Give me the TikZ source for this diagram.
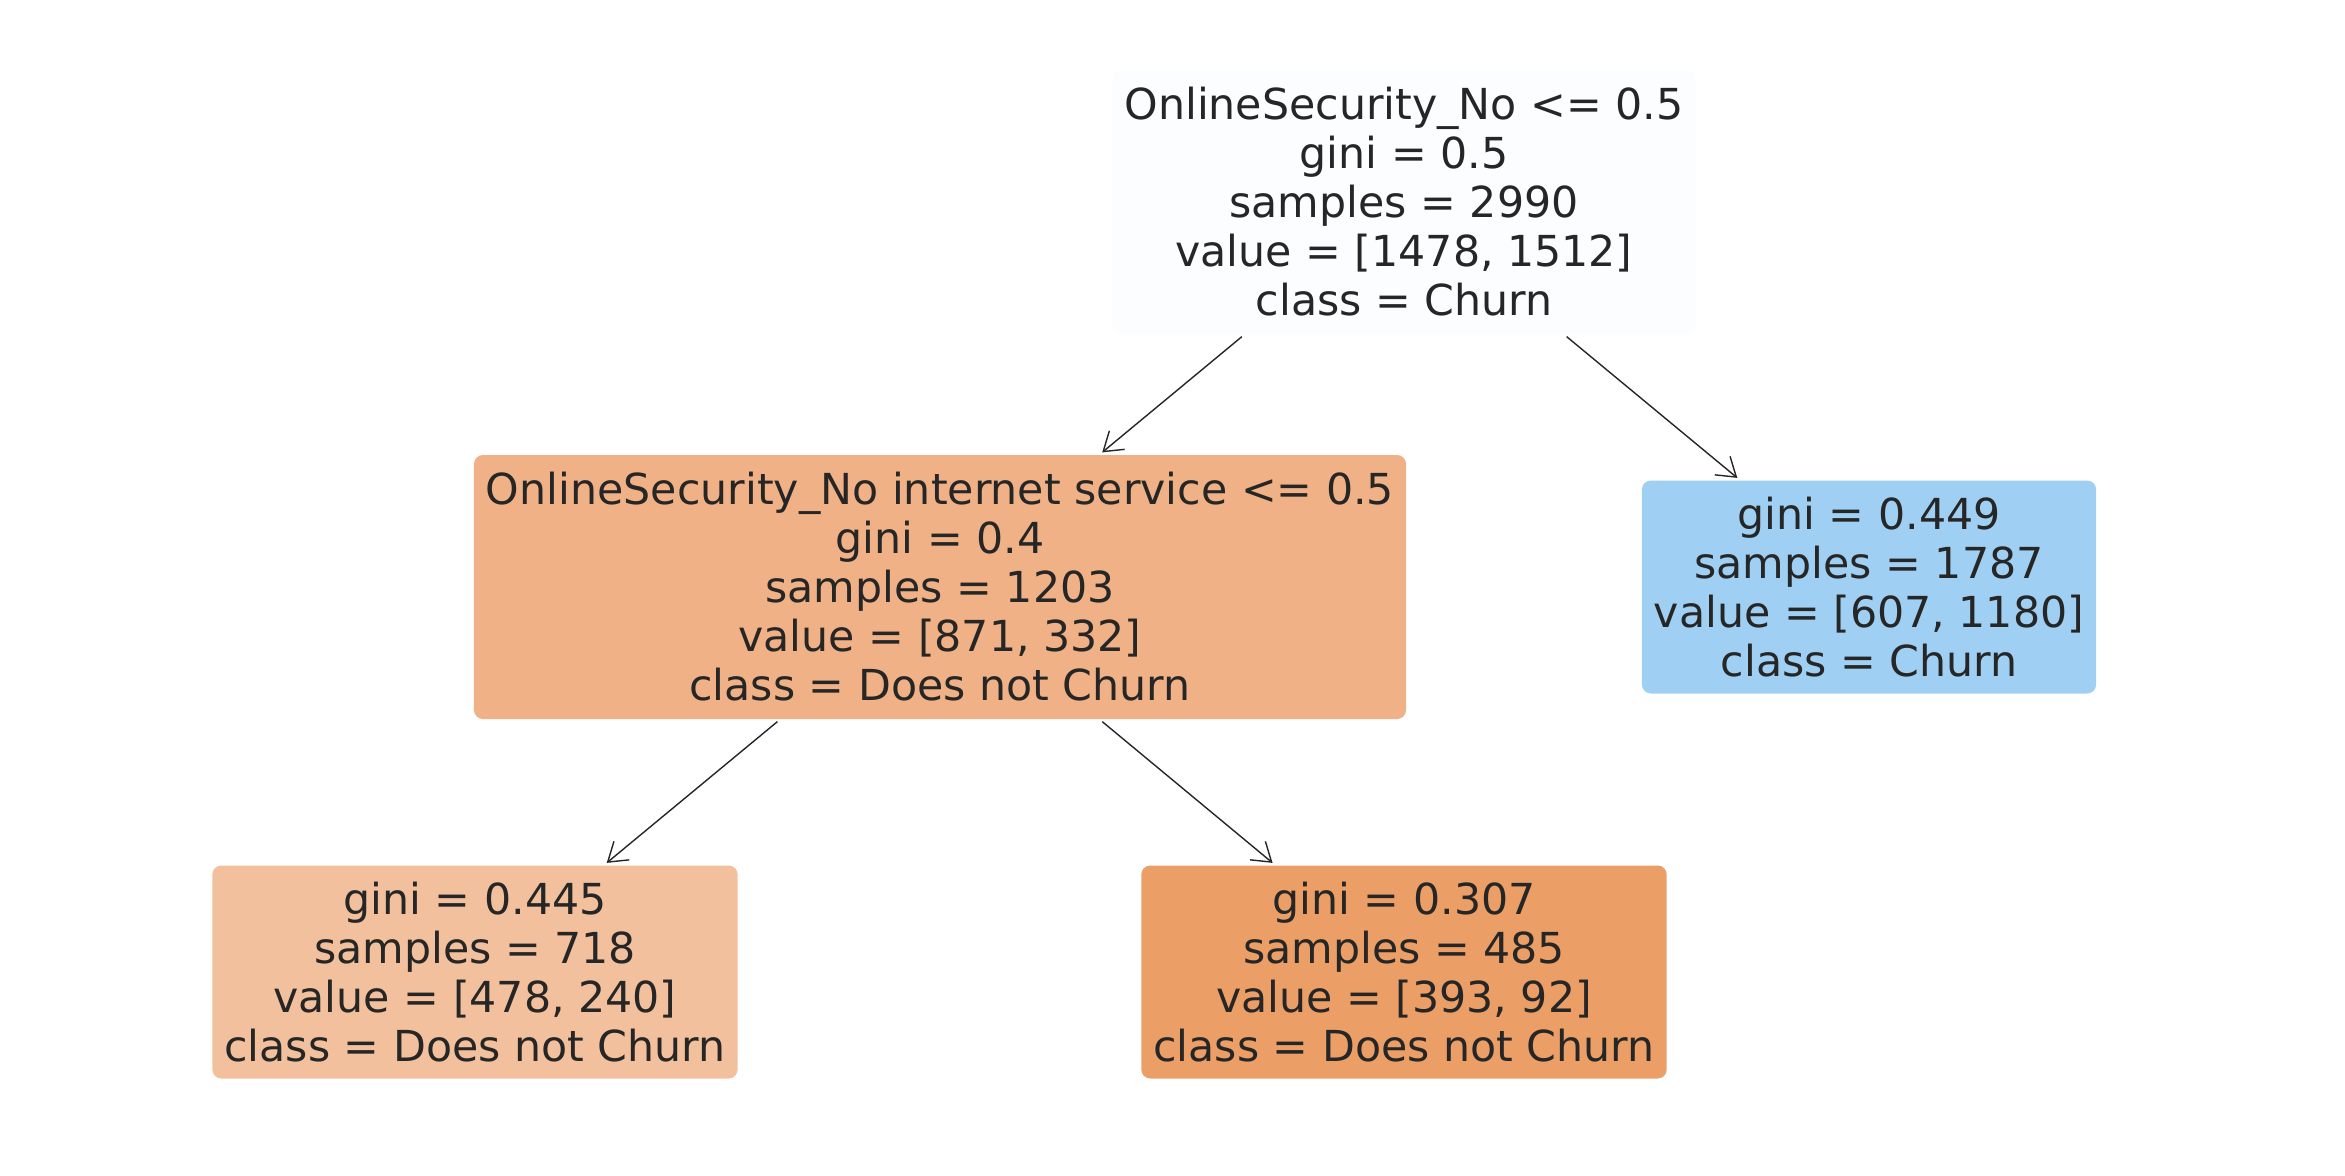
\documentclass[tikz,border=0pt]{standalone}
\usepackage{fontspec}
\setmainfont{DejaVu Sans}
\usepackage{xcolor}
\usepackage{tikz}
\usetikzlibrary{arrows.meta}

\definecolor{txtgray}{RGB}{38,38,38}
\definecolor{rootfill}{RGB}{251,253,254}
\definecolor{midfill}{RGB}{239,177,133}
\definecolor{churnfill}{RGB}{159,207,242}
\definecolor{leftfill}{RGB}{242,192,156}
\definecolor{rightfill}{RGB}{235,159,103}

\begin{document}
\begin{tikzpicture}[
  treebox/.style={rounded corners=0.09cm, inner xsep=0.12cm, inner ysep=0pt,
                  align=center, text=txtgray,
                  font=\fontsize{12.15}{13.95}\selectfont},
  split/.style={treebox, minimum height=2.64cm},
  leaf/.style={treebox, minimum height=2.13cm},
  edge/.style={draw=txtgray, line width=0.4pt,
               -{Straight Barb[length=0.18cm, width=0.24cm]},
               shorten <=0.03cm, shorten >=0.03cm},
]
\useasboundingbox (0,0) rectangle (23.45,-11.75);

% Noeuds
\node[split, fill=rootfill] (root) at (14.04,-2.02)
  {OnlineSecurity\_No <= 0.5\\gini = 0.5\\samples = 2990\\value = [1478, 1512]\\class = Churn};
\node[split, fill=midfill] (inet) at (9.40,-5.87)
  {OnlineSecurity\_No internet service <= 0.5\\gini = 0.4\\samples = 1203\\value = [871, 332]\\class = Does not Churn};
\node[leaf, fill=churnfill] (churn) at (18.69,-5.87)
  {gini = 0.449\\samples = 1787\\value = [607, 1180]\\class = Churn};
\node[leaf, fill=leftfill] (lowleft) at (4.75,-9.72)
  {gini = 0.445\\samples = 718\\value = [478, 240]\\class = Does not Churn};
\node[leaf, fill=rightfill] (lowright) at (14.04,-9.72)
  {gini = 0.307\\samples = 485\\value = [393, 92]\\class = Does not Churn};

% Flèches
\draw[edge] (root) -- (inet);
\draw[edge] (root) -- (churn);
\draw[edge] (inet) -- (lowleft);
\draw[edge] (inet) -- (lowright);

\end{tikzpicture}
\end{document}
